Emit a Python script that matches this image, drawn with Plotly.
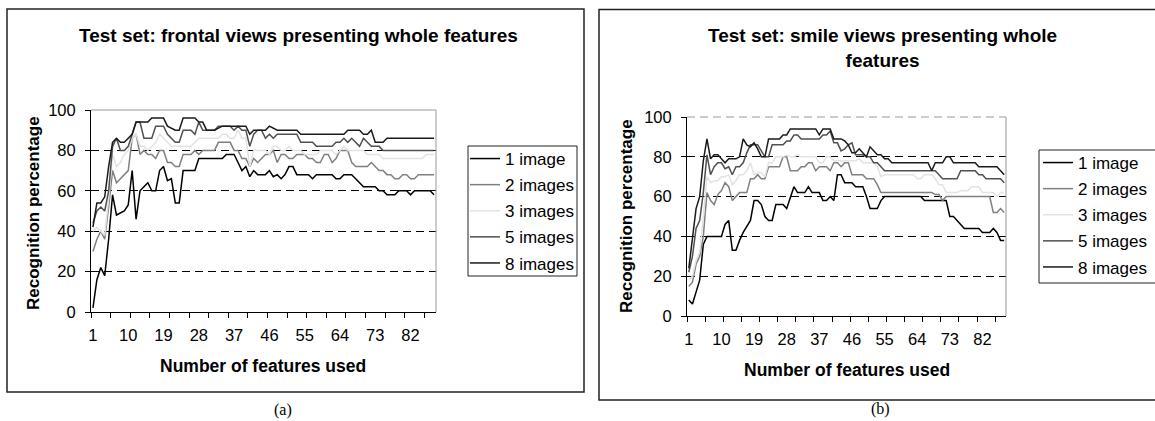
import plotly.graph_objects as go

features = list(range(1, 89))
series_names = ["1 image", "2 images", "3 images", "5 images", "8 images"]
series_colors = ["#000000", "#808080", "#e3e3e3", "#505050", "#1a1a1a"]
x_tick_labels = [1, 10, 19, 28, 37, 46, 55, 64, 73, 82]
y_tick_labels = [0, 20, 40, 60, 80, 100]

# Panel (a): frontal views
a_1img = [2, 16, 22, 18, 36, 58, 48, 49, 50, 53, 70, 46, 60, 62, 64, 60, 60, 70, 72, 65,
          66, 54, 54, 70, 70, 70, 70, 76, 76, 76, 76, 76, 76, 76, 78, 78, 78, 74, 70, 72,
          67, 70, 68, 68, 68, 70, 67, 68, 66, 68, 72, 72, 68, 68, 68, 68, 66, 68, 68, 68,
          68, 68, 66, 66, 68, 68, 68, 66, 64, 62, 62, 62, 62, 60, 60, 58, 58, 58, 60, 60,
          60, 58, 60, 60, 60, 60, 60, 58]
a_2img = [30, 36, 40, 36, 52, 70, 64, 66, 68, 70, 86, 88, 78, 80, 78, 78, 76, 80, 80, 74,
          74, 72, 72, 78, 78, 78, 80, 78, 80, 80, 80, 80, 84, 84, 84, 84, 80, 80, 76, 76,
          72, 76, 74, 76, 78, 78, 80, 74, 78, 78, 76, 76, 78, 78, 78, 76, 76, 74, 74, 78,
          78, 74, 76, 80, 80, 80, 74, 72, 72, 72, 72, 74, 72, 70, 70, 68, 68, 66, 66, 68,
          68, 66, 66, 68, 68, 68, 68, 68]
a_3img = [40, 42, 40, 38, 56, 78, 72, 74, 78, 80, 86, 88, 82, 82, 80, 82, 84, 88, 86, 84,
          82, 82, 82, 82, 82, 82, 84, 86, 86, 86, 86, 86, 86, 88, 88, 86, 86, 90, 86, 86,
          72, 80, 80, 80, 80, 78, 82, 82, 80, 80, 82, 80, 80, 80, 78, 78, 78, 78, 80, 80,
          80, 80, 78, 80, 82, 80, 80, 80, 80, 80, 78, 78, 78, 78, 76, 76, 76, 76, 76, 76,
          76, 76, 76, 76, 76, 78, 78, 78]
a_5img = [44, 50, 52, 50, 60, 82, 86, 80, 80, 82, 88, 94, 94, 86, 86, 86, 92, 92, 92, 88,
          86, 84, 84, 90, 90, 90, 88, 94, 90, 90, 90, 90, 92, 92, 92, 92, 90, 92, 90, 90,
          82, 88, 90, 90, 86, 88, 86, 88, 88, 88, 88, 88, 88, 84, 84, 84, 84, 82, 82, 82,
          82, 82, 84, 84, 86, 84, 86, 84, 82, 86, 84, 82, 82, 82, 80, 80, 80, 80, 80, 80,
          80, 80, 80, 80, 80, 80, 80, 80]
a_8img = [42, 54, 54, 57, 72, 84, 86, 84, 84, 86, 88, 94, 94, 94, 94, 96, 96, 96, 96, 92,
          91, 90, 90, 96, 96, 96, 96, 94, 94, 90, 90, 90, 91, 92, 92, 92, 92, 92, 92, 92,
          88, 90, 90, 90, 90, 92, 91, 90, 90, 90, 90, 90, 90, 88, 88, 88, 88, 88, 88, 88,
          88, 88, 88, 88, 88, 90, 90, 90, 90, 88, 88, 90, 84, 84, 84, 86, 86, 86, 86, 86,
          86, 86, 86, 86, 86, 86, 86, 86]

# Panel (b): smile views
b_1img = [8, 6, 12, 18, 36, 40, 40, 40, 40, 40, 46, 48, 33, 33, 38, 42, 45, 48, 58, 58,
          56, 50, 48, 48, 56, 56, 56, 54, 60, 65, 62, 62, 62, 65, 62, 62, 62, 58, 58, 60,
          58, 71, 71, 67, 67, 67, 65, 65, 65, 60, 54, 54, 54, 58, 60, 60, 60, 60, 60, 60,
          60, 60, 60, 60, 60, 58, 58, 58, 58, 58, 58, 58, 50, 50, 48, 46, 44, 44, 44, 44,
          44, 42, 42, 42, 44, 42, 38, 38]
b_2img = [15, 17, 26, 30, 40, 62, 58, 56, 61, 63, 67, 65, 58, 60, 62, 62, 62, 69, 69, 71,
          69, 69, 75, 75, 75, 75, 80, 80, 73, 73, 73, 75, 75, 77, 77, 73, 75, 75, 75, 73,
          77, 77, 75, 77, 77, 71, 71, 71, 71, 69, 69, 69, 66, 62, 62, 62, 62, 62, 62, 62,
          62, 62, 62, 62, 62, 62, 62, 62, 61, 61, 58, 60, 60, 60, 60, 60, 60, 60, 60, 60,
          60, 60, 60, 60, 52, 52, 54, 52]
b_3img = [18, 20, 28, 32, 50, 70, 67, 68, 68, 70, 70, 71, 66, 68, 71, 71, 73, 77, 71, 72,
          72, 70, 77, 77, 80, 80, 80, 81, 80, 80, 81, 80, 80, 80, 80, 80, 77, 77, 80, 80,
          78, 78, 78, 78, 78, 78, 78, 79, 77, 77, 77, 77, 75, 70, 71, 71, 71, 71, 71, 71,
          71, 71, 71, 69, 69, 71, 71, 71, 69, 66, 66, 62, 62, 62, 62, 63, 63, 63, 65, 65,
          65, 62, 62, 62, 62, 60, 62, 62]
b_5img = [22, 30, 44, 48, 62, 81, 71, 75, 77, 77, 74, 75, 71, 75, 75, 77, 82, 86, 86, 86,
          83, 80, 80, 86, 86, 86, 86, 88, 88, 91, 91, 89, 89, 89, 89, 89, 89, 91, 91, 93,
          87, 87, 83, 84, 86, 87, 81, 81, 81, 80, 80, 77, 77, 75, 73, 73, 73, 73, 73, 73,
          73, 73, 73, 73, 73, 73, 73, 73, 73, 71, 69, 69, 69, 69, 69, 73, 73, 73, 73, 73,
          71, 71, 69, 69, 69, 69, 69, 67]
b_8img = [24, 40, 54, 60, 78, 89, 79, 81, 81, 79, 77, 79, 79, 79, 80, 89, 86, 85, 87, 84,
          80, 80, 89, 89, 89, 89, 91, 91, 94, 94, 94, 94, 94, 94, 94, 94, 91, 94, 94, 94,
          89, 89, 89, 88, 86, 82, 82, 84, 82, 80, 85, 83, 81, 81, 79, 79, 77, 77, 77, 77,
          77, 77, 77, 77, 77, 77, 77, 73, 77, 77, 77, 80, 80, 77, 77, 77, 77, 77, 77, 77,
          75, 75, 75, 75, 75, 75, 73, 71]

panel_a = [a_1img, a_2img, a_3img, a_5img, a_8img]
panel_b = [b_1img, b_2img, b_3img, b_5img, b_8img]

W, H = 1155, 421
FONT = "Liberation Sans, Arial, sans-serif"


def px_x(p):
    return p / W


def px_y(p):
    return (H - p) / H


fig = go.Figure()

for name, color, ys in zip(series_names, series_colors, panel_a):
    fig.add_trace(go.Scatter(x=features, y=ys, mode="lines", name=name,
                             line=dict(color=color, width=1.5),
                             xaxis="x", yaxis="y", legend="legend",
                             legendgroup="a" + name))
for name, color, ys in zip(series_names, series_colors, panel_b):
    fig.add_trace(go.Scatter(x=features, y=ys, mode="lines", name=name,
                             line=dict(color=color, width=1.5),
                             xaxis="x2", yaxis="y2", legend="legend2",
                             legendgroup="b" + name))

minor_x = [0.5 + 5 * k for k in range(18)]


def xaxis_cfg(domain, anchor):
    return dict(domain=domain, anchor=anchor, range=[0.5, 88.5],
                tickmode="array", tickvals=x_tick_labels, ticks="",
                showline=True, linecolor="black", linewidth=1,
                showgrid=False, zeroline=False,
                tickfont=dict(family=FONT, size=16.5, color="black"),
                ticklabelstandoff=8,
                minor=dict(tickmode="array", tickvals=minor_x, ticks="outside",
                           ticklen=5, tickcolor="black", tickwidth=1, showgrid=False))


def yaxis_cfg(domain, anchor):
    return dict(domain=domain, anchor=anchor, range=[0, 100],
                tickmode="array", tickvals=y_tick_labels, ticks="outside",
                ticklen=5, tickcolor="black",
                showline=True, linecolor="black", linewidth=1,
                showgrid=False, zeroline=False,
                tickfont=dict(family=FONT, size=16.5, color="black"),
                ticklabelstandoff=6,
                minor=dict(tickmode="array", tickvals=[20, 40, 60, 80], ticks="",
                           showgrid=True, gridcolor="black", gridwidth=1,
                           griddash="8px,5px"))


legend_common = dict(xanchor="left", yanchor="top", borderwidth=0,
                     bgcolor="rgba(0,0,0,0)",
                     font=dict(family=FONT, size=17, color="black"),
                     tracegroupgap=1)

fig.update_layout(
    width=W, height=H,
    margin=dict(l=0, r=0, t=0, b=0, autoexpand=False),
    paper_bgcolor="white", plot_bgcolor="white",
    xaxis=xaxis_cfg([px_x(91), px_x(436)], "y"),
    yaxis=yaxis_cfg([px_y(312), px_y(110)], "x"),
    xaxis2=xaxis_cfg([px_x(687), px_x(1006)], "y2"),
    yaxis2=yaxis_cfg([px_y(316), px_y(117)], "x2"),
    legend=dict(x=px_x(465), y=px_y(141), **legend_common),
    legend2=dict(x=px_x(1038), y=px_y(145), **legend_common),
    showlegend=True,
)

shapes = []
# panel frames
shapes.append(dict(type="rect", xref="paper", yref="paper",
                   x0=px_x(7), x1=px_x(584), y0=px_y(392), y1=px_y(9),
                   line=dict(color="#222", width=1.5), layer="below"))
shapes.append(dict(type="rect", xref="paper", yref="paper",
                   x0=px_x(599), x1=px_x(1162), y0=px_y(400), y1=px_y(9.5),
                   line=dict(color="#222", width=1.5), layer="below"))
# legend frames
shapes.append(dict(type="rect", xref="paper", yref="paper",
                   x0=px_x(468), x1=px_x(577), y0=px_y(276), y1=px_y(146),
                   line=dict(color="#222", width=1), fillcolor="white", layer="below"))
shapes.append(dict(type="rect", xref="paper", yref="paper",
                   x0=px_x(1039), x1=px_x(1162), y0=px_y(283), y1=px_y(150),
                   line=dict(color="#222", width=1), fillcolor="white", layer="below"))
# plot-area top and right borders
for xr, yr, dash in (("x", "y", "solid"), ("x2", "y2", "8px,5px")):
    shapes.append(dict(type="line", xref=xr + " domain", yref=yr + " domain",
                       x0=0, x1=1, y0=1, y1=1, line=dict(color="#999", width=1, dash=dash)))
    shapes.append(dict(type="line", xref=xr + " domain", yref=yr + " domain",
                       x0=1, x1=1, y0=0, y1=1, line=dict(color="#999", width=1)))
fig.update_layout(shapes=shapes)

ann = []
ann.append(dict(text="<b>Test set: frontal views presenting whole features</b>",
                x=px_x(298), y=px_y(36), xref="paper", yref="paper", showarrow=False,
                xanchor="center", yanchor="middle", font=dict(family=FONT, size=19, color="black")))
ann.append(dict(text="<b>Test set: smile views presenting whole<br>features</b>",
                x=px_x(882), y=px_y(48), xref="paper", yref="paper", showarrow=False,
                xanchor="center", yanchor="middle", font=dict(family=FONT, size=19, color="black")))
ann.append(dict(text="<b>Number of features used</b>", x=px_x(263), y=px_y(366),
                xref="paper", yref="paper", showarrow=False, xanchor="center", yanchor="middle",
                font=dict(family=FONT, size=17.5, color="black")))
ann.append(dict(text="<b>Number of features used</b>", x=px_x(847), y=px_y(370),
                xref="paper", yref="paper", showarrow=False, xanchor="center", yanchor="middle",
                font=dict(family=FONT, size=17.5, color="black")))
ann.append(dict(text="<b>Recognition percentage</b>", x=px_x(33), y=px_y(213), textangle=-90,
                xref="paper", yref="paper", showarrow=False, xanchor="center", yanchor="middle",
                font=dict(family=FONT, size=17, color="black")))
ann.append(dict(text="<b>Recognition percentage</b>", x=px_x(627), y=px_y(216), textangle=-90,
                xref="paper", yref="paper", showarrow=False, xanchor="center", yanchor="middle",
                font=dict(family=FONT, size=17, color="black")))
ann.append(dict(text="(a)", x=px_x(283), y=px_y(410), xref="paper", yref="paper",
                showarrow=False, xanchor="center", yanchor="middle",
                font=dict(family="Liberation Serif, Times New Roman, serif", size=16, color="black")))
ann.append(dict(text="(b)", x=px_x(880), y=px_y(409), xref="paper", yref="paper",
                showarrow=False, xanchor="center", yanchor="middle",
                font=dict(family="Liberation Serif, Times New Roman, serif", size=16, color="black")))
fig.update_layout(annotations=ann)

fig.write_html("out.html", config={"displayModeBar": False},
               post_script="document.body.style.margin='0';")
